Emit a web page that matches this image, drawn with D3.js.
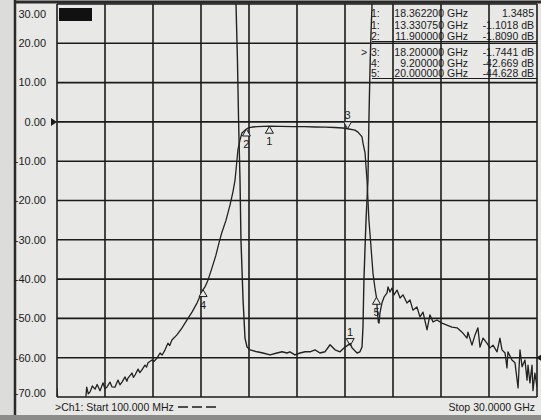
<!DOCTYPE html>
<html>
<head>
<meta charset="utf-8">
<script src="https://cdn.jsdelivr.net/npm/d3@7"></script>
<style>
html, body { margin: 0; padding: 0; background: #d8d8d6; }
svg { display: block; font-family: "Liberation Sans", Arial, sans-serif; }
</style>
</head>
<body>
<svg id="chart"></svg>
<script>
// axis ticks
const yTickValues = [30, 20, 10, 0, -10, -20, -30, -40, -50, -60, -70];
const yTickLabels = ["30.00", "20.00", "10.00", "0.00", "-10.00", "-20.00", "-30.00", "-40.00", "-50.00", "-60.00", "-70.00"];
const startGHz = 0.1, stopGHz = 30;
const xDivisions = 10;

// Ch1 trace 1 (S21, dB) [GHz, dB]
const trace1 = [
    [0.1, -67.7], [0.2, -74], [1.0, -76], [1.85, -73], [1.91, -69.5], [1.95, -67.5], [2.05, -69.2],
    [2.16, -68.7], [2.3, -67.2], [2.47, -68.0], [2.6, -66.8], [2.78, -68.4], [2.97, -66.4],
    [3.08, -67.9], [3.21, -67.5], [3.40, -66.2], [3.52, -67.4], [3.71, -67.5], [3.90, -65.7],
    [4.02, -66.9], [4.15, -66.2], [4.34, -64.9], [4.45, -66.0], [4.52, -65.2], [4.77, -63.9],
    [4.86, -65.0], [4.96, -64.4], [5.15, -62.9], [5.26, -63.8], [5.39, -63.1], [5.58, -61.9],
    [5.68, -62.4], [5.77, -61.3], [6.02, -60.6], [6.15, -60.9], [6.33, -60.1], [6.52, -58.8],
    [6.65, -59.3], [6.83, -58.0], [7.01, -56.3], [7.12, -56.9], [7.26, -55.5], [7.57, -54.2],
    [7.89, -52.4], [8.20, -50.4], [8.51, -48.4], [8.82, -46.1], [9.2, -42.67], [9.32, -42.0],
    [9.51, -40.2], [9.75, -37.2], [10.00, -33.9], [10.19, -30.8], [10.38, -28.0], [10.63, -25.0],
    [10.88, -21.1], [11.06, -17.8], [11.19, -14.8], [11.31, -9.7], [11.37, -7.1], [11.50, -4.6],
    [11.62, -2.8], [11.81, -2.1], [11.9, -1.81], [12.0, -1.55], [12.25, -1.3], [12.6, -1.2],
    [13.33, -1.10], [14.0, -1.12], [14.8, -1.2], [15.5, -1.22], [16.2, -1.3], [16.8, -1.35],
    [17.4, -1.42], [17.9, -1.55], [18.2, -1.74], [18.66, -2.1], [18.85, -2.6], [19.10, -3.8],
    [19.16, -5.4], [19.29, -7.9], [19.35, -11.5], [19.41, -14.8], [19.47, -19.9], [19.53, -25.0],
    [19.66, -31.8], [19.78, -38.4], [19.91, -42.4], [20.0, -44.63], [20.06, -48.5], [20.12, -51.0],
    [20.16, -51.2], [20.22, -48.6], [20.34, -46.1], [20.47, -44.6], [20.66, -43.5], [20.72, -42.0],
    [20.84, -43.3], [20.97, -42.3], [21.09, -44.0], [21.28, -42.8], [21.47, -44.8], [21.65, -44.0],
    [21.90, -46.1], [22.09, -45.3], [22.27, -47.9], [22.52, -47.1], [22.71, -49.6], [22.90, -48.4],
    [23.15, -52.9], [23.33, -49.1], [23.52, -50.9], [23.77, -50.4], [24.08, -51.2], [24.39, -51.7],
    [24.70, -52.2], [25.02, -52.4], [25.33, -53.5], [25.64, -55.0], [25.70, -53.5], [25.95, -56.8],
    [26.14, -54.2], [26.32, -52.4], [26.45, -57.3], [26.64, -55.0], [26.88, -56.3], [27.07, -57.5],
    [27.26, -56.8], [27.51, -58.5], [27.69, -55.0], [27.82, -58.0], [28.01, -58.8], [28.13, -62.6],
    [28.19, -58.5], [28.44, -60.6], [28.63, -61.3], [28.82, -67.7], [28.94, -58.0], [29.07, -62.3],
    [29.25, -60.6], [29.38, -65.7], [29.44, -61.9], [29.56, -66.4], [29.69, -61.9], [29.75, -68.4],
    [29.87, -63.9], [30.0, -67.5]
];

// Ch1 trace 2 (display units) [GHz, value]
const trace2 = [
    [0.1, 45], [11.2, 45], [11.25, 30.0], [11.34, 15.8], [11.41, 0.5], [11.50, -14.8], [11.56, -30.1],
    [11.69, -45.3], [11.81, -55.0], [11.94, -57.3], [12.12, -58.0], [12.56, -58.5], [12.93, -58.8],
    [13.37, -59.3], [13.80, -58.8], [14.12, -58.5], [14.43, -58.8], [14.61, -58.5], [14.92, -59.3],
    [15.24, -58.8], [15.55, -58.5], [15.86, -58.5], [16.17, -58.0], [16.48, -58.8], [16.79, -58.5],
    [17.11, -56.7], [17.42, -58.0], [17.73, -58.5], [18.04, -57.3], [18.36, -56.4], [18.48, -57.5],
    [18.79, -58.8], [18.97, -58.5], [19.10, -57.3], [19.16, -52.2], [19.19, -46.1], [19.22, -40.2],
    [19.29, -31.8], [19.35, -25.0], [19.41, -19.9], [19.47, -14.8], [19.53, 0.5], [19.60, 14.0],
    [19.66, 22.6], [19.72, 29.2], [19.75, 45], [30.0, 45]
];

// markers on trace 1
const markerNames = ["1", "2", "3", "4", "5"];
const markerFreqs = [13.33075, 11.9, 18.2, 9.2, 20.0];
const markerValues = [-1.1018, -1.809, -1.7441, -42.669, -44.628];
const markerPointDown = [false, false, true, false, false];
// marker on trace 2
const marker2Name = "1";
const marker2Freq = 18.3622;
const marker2Display = -56.4;

// marker table
const tableIds = ["1:", "1:", "2:", "3:", "4:", "5:"];
const tableFreqs = ["18.362200", "13.330750", "11.900000", "18.200000", "9.200000", "20.000000"];
const tableValues = ["1.3485", "-1.1018 dB", "-1.8090 dB", "-1.7441 dB", "-42.669 dB", "-44.628 dB"];
const activeRow = 3;

const width = 541, height = 420;
const plot = { left: 57, right: 537, top: 4, bottom: 397 };
const ink = "#1b1b1b";

const svg = d3.select("#chart")
    .attr("width", width)
    .attr("height", height);

// screen background
svg.append("rect").attr("x", 0).attr("y", 0).attr("width", width).attr("height", height).attr("fill", "#dcdcda");
svg.append("rect").attr("x", 15).attr("y", 0).attr("width", width - 15).attr("height", 415).attr("fill", "#e8e8e6");
svg.append("rect").attr("x", 0).attr("y", 415).attr("width", width).attr("height", 5).attr("fill", "#8c8c8a");

const x = d3.scaleLinear().domain([startGHz, stopGHz]).range([plot.left, plot.right]);
const y = d3.scaleLinear().domain([-70, 30]).range([plot.bottom, plot.top]);

// frame lines
svg.append("line").attr("x1", 15).attr("x2", 15).attr("y1", 0).attr("y2", 415)
    .attr("stroke", "#2a2a2a").attr("stroke-width", 2.5);
svg.append("line").attr("x1", 15).attr("x2", width).attr("y1", 2).attr("y2", 2)
    .attr("stroke", "#2a2a2a").attr("stroke-width", 3);

// grid
const grid_g = svg.append("g").attr("stroke", ink).attr("stroke-width", 1.6);
grid_g.selectAll(".vg")
    .data(d3.range(xDivisions + 1).map(i => startGHz + i * (stopGHz - startGHz) / xDivisions))
    .join("line")
    .attr("x1", d => x(d)).attr("x2", d => x(d))
    .attr("y1", plot.top).attr("y2", plot.bottom);
grid_g.selectAll(".hg")
    .data(yTickValues)
    .join("line")
    .attr("x1", plot.left).attr("x2", plot.right)
    .attr("y1", d => y(d)).attr("y2", d => y(d));

// y labels
svg.append("g").selectAll("text")
    .data(yTickValues)
    .join("text")
    .attr("x", 46)
    .attr("y", (d, i) => i === 0 ? y(d) + 10 : (i === yTickValues.length - 1 ? y(d) - 4 : y(d)))
    .attr("dy", "0.35em")
    .attr("text-anchor", "end")
    .attr("font-size", 11)
    .attr("fill", ink)
    .text((d, i) => yTickLabels[i]);

// reference arrows
svg.append("path")
    .attr("d", `M${plot.left - 6},${y(0) - 4} L${plot.left},${y(0)} L${plot.left - 6},${y(0) + 4} Z`)
    .attr("fill", ink);
svg.append("path")
    .attr("d", `M${plot.right + 4},${y(-60) - 3} L${plot.right - 1},${y(-60)} L${plot.right + 4},${y(-60) + 3} Z`)
    .attr("fill", ink);

// active indicator box
svg.append("rect").attr("x", 59).attr("y", 8).attr("width", 33).attr("height", 13).attr("fill", "#111");

// traces
svg.append("defs").append("clipPath").attr("id", "plotClip")
    .append("rect")
    .attr("x", plot.left).attr("y", plot.top)
    .attr("width", plot.right - plot.left).attr("height", plot.bottom - plot.top);

const lineMaker = d3.line()
    .x(d => x(d[0]))
    .y(d => y(d[1]));

const trace_g = svg.append("g").attr("clip-path", "url(#plotClip)");
trace_g.append("path")
    .attr("d", lineMaker(trace2))
    .attr("fill", "none")
    .attr("stroke", "#222")
    .attr("stroke-width", 1.4)
    .attr("stroke-linejoin", "round");
trace_g.append("path")
    .attr("d", lineMaker(trace1))
    .attr("fill", "none")
    .attr("stroke", "#222")
    .attr("stroke-width", 1.3)
    .attr("stroke-linejoin", "round");

// markers
const marker_g = svg.append("g");
markerNames.forEach((name, i) => {
    const px = x(markerFreqs[i]), py = y(markerValues[i]);
    const down = markerPointDown[i];
    const s = down ? -1 : 1;
    marker_g.append("path")
        .attr("d", `M${px},${py} L${px - 4},${py + s * 7} L${px + 4},${py + s * 7} Z`)
        .attr("fill", "#e8e8e6")
        .attr("stroke", ink)
        .attr("stroke-width", 1);
    marker_g.append("text")
        .attr("x", px)
        .attr("y", down ? py - 10 : py + 19)
        .attr("text-anchor", "middle")
        .attr("font-size", 11)
        .attr("fill", ink)
        .text(name);
});
{
    const px = x(marker2Freq), py = y(marker2Display);
    marker_g.append("path")
        .attr("d", `M${px},${py + 2} L${px - 4},${py - 5} L${px + 4},${py - 5} Z`)
        .attr("fill", "none")
        .attr("stroke", ink)
        .attr("stroke-width", 1);
    marker_g.append("text")
        .attr("x", px)
        .attr("y", py - 8)
        .attr("text-anchor", "middle")
        .attr("font-size", 11)
        .attr("fill", ink)
        .text(marker2Name);
}

// marker table
const rowY = [17, 28.5, 40, 55.5, 66.5, 77];
const table_g = svg.append("g").attr("font-size", 10.5).attr("fill", ink);
tableIds.forEach((id, i) => {
    table_g.append("text").attr("x", 371).attr("y", rowY[i]).text(id);
    table_g.append("text").attr("x", 444).attr("y", rowY[i]).attr("text-anchor", "end").text(tableFreqs[i]);
    table_g.append("text").attr("x", 447).attr("y", rowY[i]).text("GHz");
    table_g.append("text").attr("x", 534).attr("y", rowY[i]).attr("text-anchor", "end").text(tableValues[i]);
});
table_g.append("text").attr("x", 361).attr("y", rowY[activeRow]).text(">");
[2, 5].forEach(i => {
    svg.append("line")
        .attr("x1", 372).attr("x2", 537)
        .attr("y1", rowY[i] + 1.5).attr("y2", rowY[i] + 1.5)
        .attr("stroke", ink).attr("stroke-width", 1);
});

// bottom annotation
svg.append("text").attr("x", 55).attr("y", 411).attr("font-size", 10.5).attr("fill", ink)
    .text(">Ch1: Start  100.000 MHz");
svg.append("line").attr("x1", 178).attr("x2", 219).attr("y1", 407).attr("y2", 407)
    .attr("stroke", ink).attr("stroke-width", 1.3).attr("stroke-dasharray", "10,4");
svg.append("text").attr("x", 535).attr("y", 411).attr("text-anchor", "end").attr("font-size", 10.5).attr("fill", ink)
    .text("Stop  30.0000 GHz");
</script>
</body>
</html>
